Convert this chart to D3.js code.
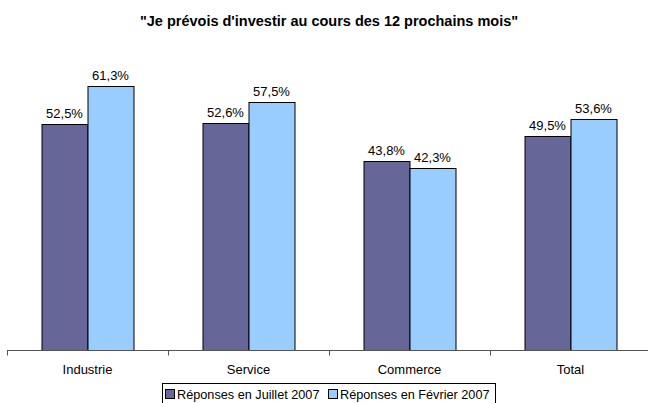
<!DOCTYPE html>
<html>
<head>
<meta charset="utf-8">
<script src="https://cdn.jsdelivr.net/npm/d3@7"></script>
<style>
  body { margin: 0; background: #fff; }
  text { font-family: "Liberation Sans", Arial, sans-serif; }
</style>
</head>
<body>
<div id="chart"></div>
<script>
// data
var categories = ["Industrie", "Service", "Commerce", "Total"];
var seriesNames = ["Réponses en Juillet 2007", "Réponses en Février 2007"];
var juillet = [52.5, 52.6, 43.8, 49.5];
var fevrier = [61.3, 57.5, 42.3, 53.6];
var colors = ["#666699", "#99CCFF"];

var w = 648, h = 403;

var svg = d3.select("#chart")
    .append("svg")
    .attr("width", w)
    .attr("height", h);

// title
svg.append("text")
    .attr("x", 329)
    .attr("y", 26)
    .attr("text-anchor", "middle")
    .style("font-size", "14.5px")
    .style("font-weight", "bold")
    .text("\"Je prévois d'investir au cours des 12 prochains mois\"");

// scales
var x = d3.scaleBand()
    .domain(categories)
    .range([7, 651]);

var y = d3.scaleLinear()
    .domain([0, 70])
    .range([350, 48]);

var barW = 46;

var data = categories.map(function (c, i) {
    return { cat: c, vals: [juillet[i], fevrier[i]] };
});

var groups = svg.selectAll("g.cat")
    .data(data)
    .enter()
    .append("g")
    .attr("class", "cat")
    .attr("transform", function (d) {
        return "translate(" + (x(d.cat) + x.bandwidth() / 2 - barW) + ",0)";
    });

groups.selectAll("rect")
    .data(function (d) { return d.vals; })
    .enter()
    .append("rect")
    .attr("x", function (d, i) { return i * barW + 0.5; })
    .attr("y", function (d) { return Math.round(y(d)) + 0.5; })
    .attr("width", barW)
    .attr("height", function (d) { return 350 - Math.round(y(d)); })
    .attr("fill", function (d, i) { return colors[i]; })
    .attr("stroke", "#000")
    .attr("stroke-width", 1);

groups.selectAll("text.val")
    .data(function (d) { return d.vals; })
    .enter()
    .append("text")
    .attr("class", "val")
    .attr("x", function (d, i) { return i * barW + barW / 2; })
    .attr("y", function (d) { return y(d) - 6; })
    .attr("text-anchor", "middle")
    .style("font-size", "13px")
    .text(function (d) { return d3.format(".1f")(d).replace(".", ",") + "%"; });

// x axis
var axis = svg.append("g")
    .attr("transform", "translate(0,350.5)");

axis.append("line")
    .attr("x1", 7).attr("x2", 648)
    .attr("stroke", "#555");

axis.selectAll("line.tick")
    .data(categories)
    .enter()
    .append("line")
    .attr("class", "tick")
    .attr("x1", function (d) { return Math.round(x(d)) + 0.5; })
    .attr("x2", function (d) { return Math.round(x(d)) + 0.5; })
    .attr("y1", 0).attr("y2", 5)
    .attr("stroke", "#555");

axis.selectAll("text")
    .data(categories)
    .enter()
    .append("text")
    .attr("x", function (d) { return x(d) + x.bandwidth() / 2; })
    .attr("y", 23)
    .attr("text-anchor", "middle")
    .style("font-size", "13px")
    .text(function (d) { return d; });

// legend
var legend = svg.append("g");

legend.append("rect")
    .attr("x", 162.5).attr("y", 383.5)
    .attr("width", 333).attr("height", 22)
    .attr("fill", "#fff")
    .attr("stroke", "#000");

var legX = [165, 328];
var items = legend.selectAll("g.item")
    .data(seriesNames)
    .enter()
    .append("g")
    .attr("transform", function (d, i) { return "translate(" + legX[i] + ",0)"; });

items.append("rect")
    .attr("x", 0.5).attr("y", 389.5)
    .attr("width", 9).attr("height", 9)
    .attr("fill", function (d, i) { return colors[i]; })
    .attr("stroke", "#000");

items.append("text")
    .attr("x", 12)
    .attr("y", 399)
    .style("font-size", "12.7px")
    .text(function (d) { return d; });
</script>
</body>
</html>
